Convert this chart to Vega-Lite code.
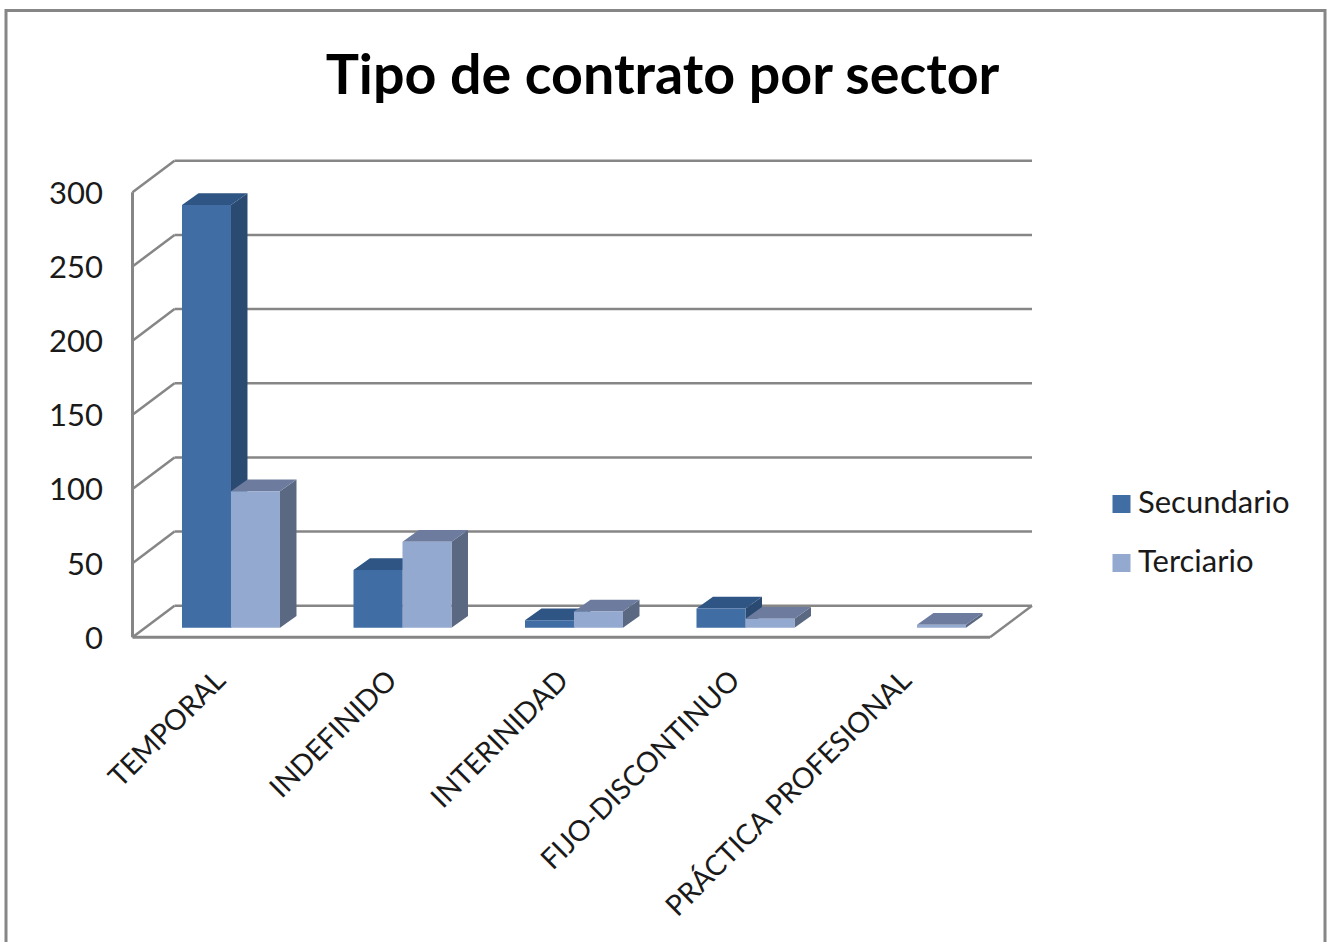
{"$schema":"https://vega.github.io/schema/vega-lite/v6.json","width":1319,"height":934,"autosize":"none","padding":{"left":6,"top":10.5,"right":6,"bottom":1},"background":"white","config":{"view":{"stroke":"#868686","strokeWidth":3},"font":"Lato"},"title":{"text":"Tipo de contrato por sector","anchor":"middle","font":"Lato","fontSize":55.6,"fontWeight":"bold","color":"#000000","offset":-95,"dx":-3},"datasets":{"contratos":[{"categoria":"TEMPORAL","sector":"Secundario","valor":285},{"categoria":"TEMPORAL","sector":"Terciario","valor":92},{"categoria":"INDEFINIDO","sector":"Secundario","valor":39},{"categoria":"INDEFINIDO","sector":"Terciario","valor":58},{"categoria":"INTERINIDAD","sector":"Secundario","valor":5},{"categoria":"INTERINIDAD","sector":"Terciario","valor":11},{"categoria":"FIJO-DISCONTINUO","sector":"Secundario","valor":13},{"categoria":"FIJO-DISCONTINUO","sector":"Terciario","valor":6},{"categoria":"PRÁCTICA PROFESIONAL","sector":"Terciario","valor":2}],"escala":[{"valor":0},{"valor":50},{"valor":100},{"valor":150},{"valor":200},{"valor":250},{"valor":300}]},"data":{"name":"contratos"},"encoding":{"x":{"field":"px","type":"quantitative","title":null,"scale":{"domain":[-0.7376,6.9534],"nice":false,"zero":false},"axis":{"values":[0.5,1.5,2.5,3.5,4.5],"labelExpr":"['TEMPORAL','INDEFINIDO','INTERINIDAD','FIJO-DISCONTINUO','PRÁCTICA PROFESIONAL'][floor(datum.value)]","offset":-307.2,"domain":false,"ticks":false,"grid":false,"labelAngle":-45,"labelAlign":"right","labelBaseline":"middle","labelFontSize":28.4,"labelFont":"Lato","labelColor":"#1a1a1a","labelPadding":38,"labelOffset":2,"labelLimit":0,"labelOverlap":false,"labelBound":false,"labelFlush":false}},"y":{"field":"py","type":"quantitative","title":null,"scale":{"domain":[-207.1,422.6],"nice":false,"zero":false},"axis":{"values":[0,50,100,150,200,250,300],"offset":-126.5,"domain":false,"ticks":false,"grid":false,"labelFontSize":31,"labelFont":"Lato","labelColor":"#1a1a1a","labelPadding":30,"labelOffset":2,"labelOverlap":false,"labelBound":false,"labelFlush":false}}},"layer":[{"data":{"name":"escala"},"transform":[{"calculate":"0.2449","as":"px"},{"calculate":"5.2449","as":"px2"},{"calculate":"datum.valor+21.3","as":"py"}],"mark":{"type":"rule","color":"#868686","strokeWidth":2.5},"encoding":{"x2":{"field":"px2"}}},{"data":{"name":"escala"},"transform":[{"calculate":"0","as":"px"},{"calculate":"0.2449","as":"px2"},{"calculate":"datum.valor","as":"py"},{"calculate":"datum.valor+21.3","as":"py2"}],"mark":{"type":"rule","color":"#868686","strokeWidth":2.5},"encoding":{"x2":{"field":"px2"},"y2":{"field":"py2"}}},{"data":{"name":"escala"},"transform":[{"filter":"datum.valor===0"},{"calculate":"0","as":"px"},{"calculate":"5","as":"px2"},{"calculate":"0","as":"py"}],"mark":{"type":"rule","color":"#868686","strokeWidth":3},"encoding":{"x2":{"field":"px2"}}},{"data":{"name":"escala"},"transform":[{"filter":"datum.valor===0"},{"calculate":"5","as":"px"},{"calculate":"5.2449","as":"px2"},{"calculate":"0","as":"py"},{"calculate":"21.3","as":"py2"}],"mark":{"type":"rule","color":"#868686","strokeWidth":2.5},"encoding":{"x2":{"field":"px2"},"y2":{"field":"py2"}}},{"data":{"name":"escala"},"transform":[{"filter":"datum.valor===0"},{"calculate":"0","as":"px"},{"calculate":"0","as":"py"},{"calculate":"300","as":"py2"}],"mark":{"type":"rule","color":"#868686","strokeWidth":3},"encoding":{"y2":{"field":"py2"}}},{"transform":[{"calculate":"indexof(['TEMPORAL','INDEFINIDO','INTERINIDAD','FIJO-DISCONTINUO','PRÁCTICA PROFESIONAL'],datum.categoria)+0.2886+(datum.sector==='Terciario'?0.2857:0)+0.2857","as":"borde"},{"calculate":"[0,1]","as":"t"},{"flatten":["t"]},{"calculate":"datum.borde+datum.t*0.0962","as":"px"},{"calculate":"6.47+datum.t*7.9","as":"py"},{"calculate":"6.47+datum.valor+datum.t*7.9","as":"py2"},{"calculate":"datum.categoria+datum.sector","as":"barra"}],"mark":{"type":"area","orient":"vertical"},"encoding":{"y2":{"field":"py2"},"detail":{"field":"barra"},"color":{"condition":{"test":"datum.sector==='Secundario'","value":"#2A4A72"},"value":"#5A6882"}}},{"transform":[{"calculate":"indexof(['TEMPORAL','INDEFINIDO','INTERINIDAD','FIJO-DISCONTINUO','PRÁCTICA PROFESIONAL'],datum.categoria)+0.2886+(datum.sector==='Terciario'?0.2857:0)","as":"borde"},{"calculate":"[0,1]","as":"t"},{"flatten":["t"]},{"calculate":"datum.borde+datum.t*0.0962","as":"px"},{"calculate":"datum.borde+0.2857+datum.t*0.0962","as":"px2"},{"calculate":"6.47+datum.valor+datum.t*7.9","as":"py"},{"calculate":"datum.categoria+datum.sector","as":"barra"}],"mark":{"type":"area","orient":"horizontal"},"encoding":{"x2":{"field":"px2"},"detail":{"field":"barra"},"color":{"condition":{"test":"datum.sector==='Secundario'","value":"#2E5583"},"value":"#6D7C9E"}}},{"transform":[{"calculate":"indexof(['TEMPORAL','INDEFINIDO','INTERINIDAD','FIJO-DISCONTINUO','PRÁCTICA PROFESIONAL'],datum.categoria)+0.2886+(datum.sector==='Terciario'?0.2857:0)","as":"px"},{"calculate":"datum.px+0.2857","as":"px2"},{"calculate":"6.47","as":"py"},{"calculate":"6.47+datum.valor","as":"py2"}],"mark":{"type":"rect"},"encoding":{"x2":{"field":"px2"},"y2":{"field":"py2"},"color":{"field":"sector","type":"nominal","scale":{"domain":["Secundario","Terciario"],"range":["#416DA5","#93A9CF"]},"legend":{"title":null,"orient":"none","legendX":1100,"legendY":478,"symbolType":"square","symbolSize":324,"symbolStrokeWidth":0,"labelFontSize":31,"labelFont":"Lato","labelColor":"#1a1a1a","labelOffset":1,"labelLimit":0,"rowPadding":27,"padding":0}}}}]}
